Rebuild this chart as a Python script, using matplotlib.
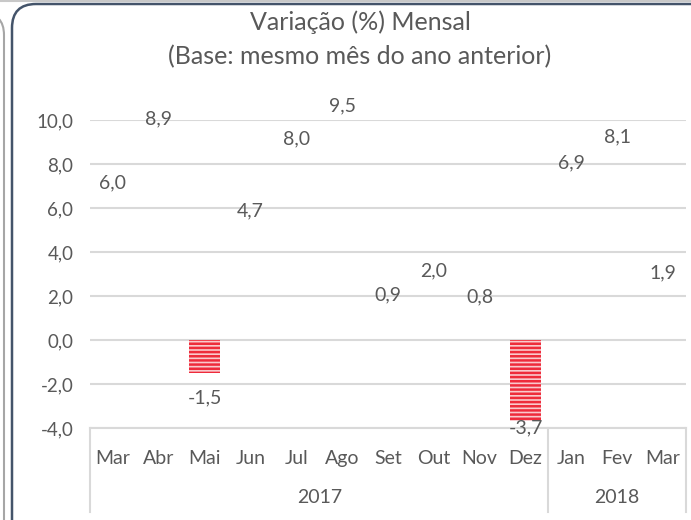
import matplotlib
matplotlib.use("Agg")
import matplotlib.pyplot as plt
from matplotlib.patches import FancyBboxPatch
from matplotlib.lines import Line2D
from matplotlib.transforms import IdentityTransform

months = ["Mar", "Abr", "Mai", "Jun", "Jul", "Ago", "Set", "Out", "Nov", "Dez", "Jan", "Fev", "Mar"]
values = [6.0, 8.9, -1.5, 4.7, 8.0, 9.5, 0.9, 2.0, 0.8, -3.7, 6.9, 8.1, 1.9]
years = ["2017", "2018"]
year_sizes = [10, 3]
title_lines = ["Variação (%) Mensal", "(Base: mesmo mês do ano anterior)"]

W, H = 691, 520
TXT = "#595959"
GRID = "#D9D9D9"

plt.rcParams["font.family"] = ["Lato", "DejaVu Sans"]
plt.rcParams["hatch.linewidth"] = 1.8

fig = plt.figure(figsize=(W / 100, H / 100), dpi=100)
fig.patch.set_facecolor("white")

# neighbouring chart border peeking in at the left edge
fig.add_artist(FancyBboxPatch((-60, -40), 64, H + 27, boxstyle="round,pad=0,rounding_size=22",
                              transform=IdentityTransform(), facecolor="none",
                              edgecolor="#A6A6A6", linewidth=1.5))
fig.add_artist(Line2D([0, W], [H - 1, H - 1], transform=IdentityTransform(),
                      color="#C8C8C8", linewidth=1.5))
# chart frame
fig.add_artist(FancyBboxPatch((12, -40), W + 40, H - 4 + 40, boxstyle="round,pad=0,rounding_size=24",
                              transform=IdentityTransform(), facecolor="none",
                              edgecolor="#44546A", linewidth=1.8))

ax = fig.add_axes([90 / W, (H - 428) / H, (686 - 90) / W, (428 - 120) / H])
x = list(range(len(values)))
bars = ax.bar(x, values, width=0.68, color="#F9C9CD", edgecolor="#EE2B3B",
              linewidth=0, zorder=3)
# only the negative months are filled (striped); positive ones have no fill
for b, v in zip(bars, values):
    if v >= 0:
        b.set_facecolor("none")
        b.set_edgecolor("none")
    else:
        b.set_hatch("----")

ax.set_xlim(-0.5, len(values) - 0.5)
ax.set_ylim(-4, 10)
ax.set_yticks(range(-4, 11, 2))
ax.set_yticklabels([f"{t:.1f}".replace(".", ",") for t in range(-4, 11, 2)])
ax.yaxis.grid(True, color=GRID, linewidth=1.5, zorder=0)
ax.set_axisbelow(True)
for s in ["top", "right", "left"]:
    ax.spines[s].set_visible(False)
ax.spines["bottom"].set_color(GRID)
ax.spines["bottom"].set_linewidth(1.5)
ax.tick_params(axis="y", length=0, pad=12, labelsize=13.5, labelcolor=TXT)
ax.set_xticks(x)
ax.set_xticklabels(months)
ax.tick_params(axis="x", length=0, pad=15.5, labelsize=14, labelcolor=TXT)

for xi, v in zip(x, values):
    if v >= 0:
        ly = v + 1.15
    else:
        ly = max(v - 1.15, -4.0)
    ax.text(xi, ly, f"{v:.1f}".replace(".", ","), ha="center", va="center",
            fontsize=14, color=TXT, clip_on=False, zorder=4)

# year level of the category axis
tr = ax.get_xaxis_transform()
start = -0.5
bounds = [start]
for name, n in zip(years, year_sizes):
    ax.text(start + n / 2, -0.225, name, transform=tr, ha="center", va="center",
            fontsize=14, color=TXT)
    start += n
    bounds.append(start)
for b in bounds:
    ax.plot([b, b], [0, -0.273], transform=tr, color=GRID, linewidth=1.5, clip_on=False)

for i, line in enumerate(title_lines):
    fig.text(360 / W, 1 - (22 + 35 * i) / H, line, ha="center", va="center",
             fontsize=18, color=TXT)

fig.savefig("out.png", dpi=100)
